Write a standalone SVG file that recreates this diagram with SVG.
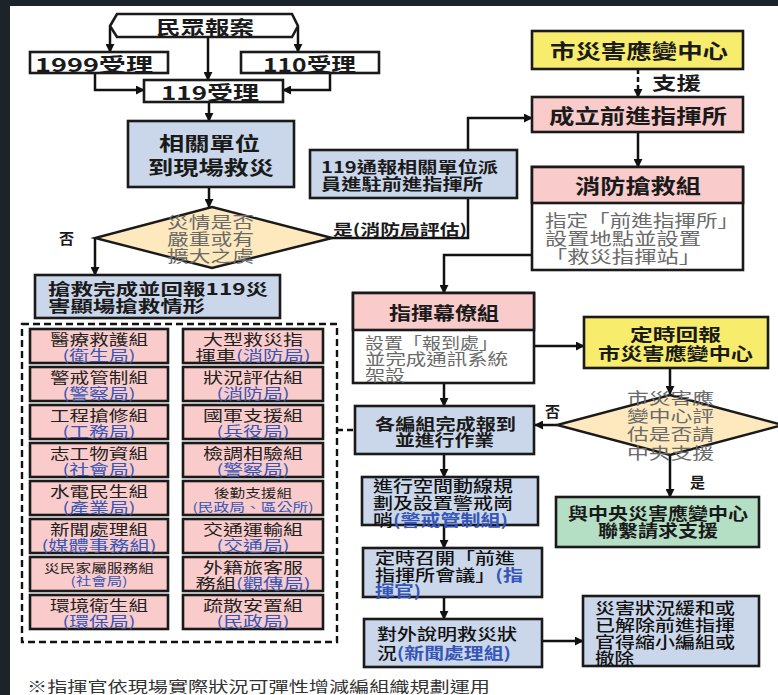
<svg xmlns="http://www.w3.org/2000/svg" width="778" height="695" viewBox="0 0 778 695">
<style>
text{font-family:"Noto Sans CJK TC","Noto Sans CJK SC",sans-serif;dominant-baseline:central}
.b{font-weight:700;fill:#1a1a1a}
.m{font-weight:500;fill:#111}
.g{font-weight:400;fill:#6a6a6a}
.n{font-weight:400;fill:#222}
.u{fill:#3556b8;font-weight:700}
.v{fill:#3556b8;font-weight:400}
.k{fill:#222;font-weight:400}
.box{stroke:#1a1a1a;stroke-width:2.6}
.blue{fill:#cad6ea}
.pink{fill:#f9cbcb}
.yel{fill:#f7ec6c}
.wh{fill:#ffffff}
.grn{fill:#b5dfc5}
.dia{fill:#fde9bd;stroke:#1a1a1a;stroke-width:2.4}
.ln{fill:none;stroke:#111;stroke-width:2.5}
</style>
<defs>
<marker id="ar" viewBox="0 0 10 10" refX="9" refY="5" markerWidth="9" markerHeight="9" markerUnits="userSpaceOnUse" orient="auto">
<path d="M0,0 L10,5 L0,10 Z" fill="#111"/>
</marker>
</defs>
<rect x="0" y="0" width="778" height="695" fill="#1c2329"/>
<rect x="10" y="6" width="768" height="689" fill="#ffffff"/>

<g id="connectors">
<path class="ln" d="M110,27 V52" marker-end="url(#ar)"/>
<path class="ln" d="M208,37 V80" marker-end="url(#ar)"/>
<path class="ln" d="M298,27 V52" marker-end="url(#ar)"/>
<path class="ln" d="M95,73 V90 H144" marker-end="url(#ar)"/>
<path class="ln" d="M330,73 V90 H283" marker-end="url(#ar)"/>
<path class="ln" d="M209,102 V121" marker-end="url(#ar)"/>
<path class="ln" d="M209,187 V207" marker-end="url(#ar)"/>
<path class="ln" d="M95,238 V275" marker-end="url(#ar)"/>
<path class="ln" d="M332,238 H468 V198"/>
<path class="ln" d="M468,150 V118 H532" marker-end="url(#ar)"/>
<path class="ln" d="M638,69 V97" stroke-dasharray="5,3" marker-end="url(#ar)"/>
<path class="ln" d="M638,132 V167" marker-end="url(#ar)"/>
<path class="ln" d="M532,255 H444 V293" marker-end="url(#ar)"/>
<path class="ln" d="M534,346 H584" marker-end="url(#ar)"/>
<path class="ln" d="M670,368 V394" marker-end="url(#ar)"/>
<path class="ln" d="M557,425 H535" marker-end="url(#ar)"/>
<path class="ln" d="M670,455 V497" marker-end="url(#ar)"/>
<path class="ln" d="M444,383 V406" marker-end="url(#ar)"/>
<path class="ln" d="M444,454 V477" marker-end="url(#ar)"/>
<path class="ln" d="M444,525 V548" marker-end="url(#ar)"/>
<path class="ln" d="M444,597 V619" marker-end="url(#ar)"/>
<path class="ln" d="M542,641 H583" marker-end="url(#ar)"/>
<path class="ln" d="M337,430 H355" stroke-dasharray="6,4"/>
</g>

<g id="report">
<path d="M110,26 L117,14 H292 L298,26 L292,37 H117 Z" fill="#fff" stroke="#1a1a1a" stroke-width="2.6"/>
<text class="b" x="156" y="26" font-size="19" textLength="98" lengthAdjust="spacingAndGlyphs">民眾報案</text>
</g>
<g id="r1999">
<rect class="box wh" x="30" y="52" width="138" height="21"/>
<text class="b" x="35" y="63" font-size="19" textLength="118" lengthAdjust="spacingAndGlyphs">1999受理</text>
</g>
<g id="r110">
<rect class="box wh" x="241" y="52" width="138" height="21"/>
<text class="b" x="263" y="63" font-size="19" textLength="93" lengthAdjust="spacingAndGlyphs">110受理</text>
</g>
<g id="r119">
<rect class="box wh" x="144" y="80" width="139" height="22"/>
<text class="b" x="161" y="91" font-size="19" textLength="98" lengthAdjust="spacingAndGlyphs">119受理</text>
</g>
<g id="rescue">
<rect class="box blue" x="128" y="121" width="166" height="66"/>
<text class="b" font-size="19"><tspan x="159" y="142" textLength="101" lengthAdjust="spacingAndGlyphs">相關單位</tspan><tspan x="148" y="166" textLength="126" lengthAdjust="spacingAndGlyphs">到現場救災</tspan></text>
</g>
<g id="decision1">
<path class="dia" d="M212,207 L332,238 L212,268 L95,238 Z"/>
<text class="g" font-size="16"><tspan x="167" y="221" textLength="87" lengthAdjust="spacingAndGlyphs">災情是否</tspan><tspan x="167" y="238" textLength="87" lengthAdjust="spacingAndGlyphs">嚴重或有</tspan><tspan x="167" y="255" textLength="87" lengthAdjust="spacingAndGlyphs">擴大之虞</tspan></text>
<text class="b" x="59" y="237" font-size="15">否</text>
<text class="b" x="333" y="228" font-size="15" textLength="134" lengthAdjust="spacingAndGlyphs">是(消防局評估)</text>
</g>
<g id="done">
<rect class="box blue" x="35" y="275" width="245" height="43"/>
<text class="b" font-size="16"><tspan x="48" y="288" textLength="220" lengthAdjust="spacingAndGlyphs">搶救完成並回報119災</tspan><tspan x="48" y="305" textLength="157" lengthAdjust="spacingAndGlyphs">害顯場搶救情形</tspan></text>
</g>
<g id="notify">
<rect class="box blue" x="310" y="150" width="207" height="48"/>
<text class="b" font-size="15.5"><tspan x="321" y="166" textLength="177" lengthAdjust="spacingAndGlyphs">119通報相關單位派</tspan><tspan x="321" y="183" textLength="162" lengthAdjust="spacingAndGlyphs">員進駐前進指揮所</tspan></text>
</g>
<g id="cityeoc">
<rect class="box yel" x="532" y="31" width="211" height="38"/>
<text class="b" x="550" y="50" font-size="20" textLength="178" lengthAdjust="spacingAndGlyphs">市災害應變中心</text>
<text class="b" x="652" y="82" font-size="18" textLength="49" lengthAdjust="spacingAndGlyphs">支援</text>
</g>
<g id="fcp">
<rect class="box pink" x="532" y="97" width="211" height="35"/>
<text class="b" x="549" y="115" font-size="20" textLength="178" lengthAdjust="spacingAndGlyphs">成立前進指揮所</text>
</g>
<g id="fire">
<rect class="box wh" x="532" y="167" width="211" height="103"/>
<rect class="box pink" x="532" y="167" width="211" height="36"/>
<text class="b" x="575" y="185" font-size="20" textLength="126" lengthAdjust="spacingAndGlyphs">消防搶救組</text>
<text class="g" font-size="16.5"><tspan x="545" y="220" textLength="194" lengthAdjust="spacingAndGlyphs">指定「前進指揮所」</tspan><tspan x="545" y="238" textLength="156" lengthAdjust="spacingAndGlyphs">設置地點並設置</tspan><tspan x="545" y="256" textLength="156" lengthAdjust="spacingAndGlyphs">「救災指揮站」</tspan></text>
</g>
<g id="staff">
<rect class="box wh" x="353" y="293" width="181" height="90"/>
<rect class="box pink" x="353" y="293" width="181" height="37"/>
<text class="b" x="389" y="312" font-size="18" textLength="110" lengthAdjust="spacingAndGlyphs">指揮幕僚組</text>
<text class="g" font-size="15.5"><tspan x="365" y="342" textLength="133" lengthAdjust="spacingAndGlyphs">設置「報到處」</tspan><tspan x="365" y="358" textLength="143" lengthAdjust="spacingAndGlyphs">並完成通訊系統</tspan><tspan x="365" y="374" textLength="40" lengthAdjust="spacingAndGlyphs">架設</tspan></text>
</g>
<g id="report2">
<rect class="box yel" x="584" y="317" width="184" height="51"/>
<text class="b" font-size="17.5"><tspan x="630" y="333" textLength="91" lengthAdjust="spacingAndGlyphs">定時回報</tspan><tspan x="598" y="352" textLength="155" lengthAdjust="spacingAndGlyphs">市災害應變中心</tspan></text>
</g>
<g id="decision2">
<path class="dia" d="M670,395 L783,425 L670,455 L557,425 Z"/>
<text class="g" font-size="16"><tspan x="627" y="397" textLength="87" lengthAdjust="spacingAndGlyphs">市災害應</tspan><tspan x="627" y="415" textLength="87" lengthAdjust="spacingAndGlyphs">變中心評</tspan><tspan x="627" y="433" textLength="87" lengthAdjust="spacingAndGlyphs">估是否請</tspan><tspan x="627" y="452" textLength="87" lengthAdjust="spacingAndGlyphs">中央支援</tspan></text>
<text class="b" x="545" y="410" font-size="15">否</text>
<text class="b" x="690" y="481" font-size="15">是</text>
</g>
<g id="central">
<rect class="box grn" x="556" y="497" width="203" height="50"/>
<text class="b" font-size="16.5"><tspan x="568" y="513" textLength="180" lengthAdjust="spacingAndGlyphs">與中央災害應變中心</tspan><tspan x="598" y="530" textLength="120" lengthAdjust="spacingAndGlyphs">聯繫請求支援</tspan></text>
</g>
<g id="groups">
<rect class="box blue" x="355" y="406" width="179" height="48"/>
<text class="b" font-size="15.5"><tspan x="375" y="423" textLength="141" lengthAdjust="spacingAndGlyphs">各編組完成報到</tspan><tspan x="395" y="439" textLength="99" lengthAdjust="spacingAndGlyphs">並進行作業</tspan></text>
</g>
<g id="space">
<rect class="box blue" x="362" y="477" width="176" height="48"/>
<text class="m" font-size="15.5"><tspan x="373" y="485" textLength="140" lengthAdjust="spacingAndGlyphs">進行空間動線規</tspan><tspan x="373" y="502" textLength="140" lengthAdjust="spacingAndGlyphs">劃及設置警戒崗</tspan><tspan x="373" y="519" textLength="135" lengthAdjust="spacingAndGlyphs">哨<tspan class="u">(警戒管制組)</tspan></tspan></text>
</g>
<g id="meeting">
<rect class="box blue" x="363" y="548" width="179" height="49"/>
<text class="m" font-size="15.5"><tspan x="375" y="557" textLength="140" lengthAdjust="spacingAndGlyphs">定時召開「前進</tspan><tspan x="375" y="574" textLength="148" lengthAdjust="spacingAndGlyphs">指揮所會議」<tspan class="u">(指</tspan></tspan><tspan class="u" x="375" y="590" textLength="46" lengthAdjust="spacingAndGlyphs">揮官)</tspan></text>
</g>
<g id="press">
<rect class="box blue" x="364" y="619" width="178" height="48"/>
<text class="m" font-size="15.5"><tspan x="377" y="633" textLength="140" lengthAdjust="spacingAndGlyphs">對外說明救災狀</tspan><tspan x="377" y="652" textLength="134" lengthAdjust="spacingAndGlyphs">況<tspan class="u">(新聞處理組)</tspan></tspan></text>
</g>
<g id="downsize">
<rect class="box blue" x="583" y="596" width="176" height="70"/>
<text class="m" font-size="15.5"><tspan x="595" y="607" textLength="140" lengthAdjust="spacingAndGlyphs">災害狀況緩和或</tspan><tspan x="595" y="624" textLength="140" lengthAdjust="spacingAndGlyphs">已解除前進指揮</tspan><tspan x="595" y="641" textLength="140" lengthAdjust="spacingAndGlyphs">官得縮小編組或</tspan><tspan x="595" y="657" textLength="39" lengthAdjust="spacingAndGlyphs">撤除</tspan></text>
</g>

<g id="container">
<rect x="22" y="324" width="315" height="318" fill="none" stroke="#111" stroke-width="2.4" stroke-dasharray="7,4"/>
</g>
<g id="g1"><rect class="box pink" x="30" y="329" width="138" height="34"/>
<text font-size="14.5"><tspan class="k" x="50" y="338" textLength="98" lengthAdjust="spacingAndGlyphs">醫療救護組</tspan><tspan class="v" x="62.5" y="354" textLength="73" lengthAdjust="spacingAndGlyphs">(衛生局)</tspan></text></g>
<g id="g2"><rect class="box pink" x="30" y="367" width="138" height="34"/>
<text font-size="14.5"><tspan class="k" x="50" y="376" textLength="98" lengthAdjust="spacingAndGlyphs">警戒管制組</tspan><tspan class="v" x="62.5" y="392" textLength="73" lengthAdjust="spacingAndGlyphs">(警察局)</tspan></text></g>
<g id="g3"><rect class="box pink" x="30" y="405" width="138" height="34"/>
<text font-size="14.5"><tspan class="k" x="50" y="414" textLength="98" lengthAdjust="spacingAndGlyphs">工程搶修組</tspan><tspan class="v" x="62.5" y="430" textLength="73" lengthAdjust="spacingAndGlyphs">(工務局)</tspan></text></g>
<g id="g4"><rect class="box pink" x="30" y="443" width="138" height="34"/>
<text font-size="14.5"><tspan class="k" x="50" y="452" textLength="98" lengthAdjust="spacingAndGlyphs">志工物資組</tspan><tspan class="v" x="62.5" y="468" textLength="73" lengthAdjust="spacingAndGlyphs">(社會局)</tspan></text></g>
<g id="g5"><rect class="box pink" x="30" y="481" width="138" height="34"/>
<text font-size="14.5"><tspan class="k" x="50" y="490" textLength="98" lengthAdjust="spacingAndGlyphs">水電民生組</tspan><tspan class="v" x="62.5" y="506" textLength="73" lengthAdjust="spacingAndGlyphs">(產業局)</tspan></text></g>
<g id="g6"><rect class="box pink" x="30" y="519" width="138" height="34"/>
<text font-size="14.5"><tspan class="k" x="50" y="528" textLength="98" lengthAdjust="spacingAndGlyphs">新聞處理組</tspan><tspan class="v" x="41.5" y="544" textLength="115" lengthAdjust="spacingAndGlyphs">(媒體事務組)</tspan></text></g>
<g id="g7"><rect class="box pink" x="30" y="557" width="138" height="34"/>
<text font-size="12"><tspan class="k" x="44" y="567" textLength="110" lengthAdjust="spacingAndGlyphs">災民家屬服務組</tspan><tspan class="v" x="70.5" y="580" textLength="57" lengthAdjust="spacingAndGlyphs">(社會局)</tspan></text></g>
<g id="g8"><rect class="box pink" x="30" y="595" width="138" height="34"/>
<text font-size="14.5"><tspan class="k" x="50" y="604" textLength="98" lengthAdjust="spacingAndGlyphs">環境衛生組</tspan><tspan class="v" x="62.5" y="620" textLength="73" lengthAdjust="spacingAndGlyphs">(環保局)</tspan></text></g>

<g id="g9"><rect class="box pink" x="183" y="329" width="140" height="34"/>
<text font-size="14.5"><tspan class="k" x="203" y="338" textLength="100" lengthAdjust="spacingAndGlyphs">大型救災指</tspan><tspan class="k" x="195.5" y="354" textLength="115" lengthAdjust="spacingAndGlyphs">揮車<tspan class="v">(消防局)</tspan></tspan></text></g>
<g id="g10"><rect class="box pink" x="183" y="367" width="140" height="34"/>
<text font-size="14.5"><tspan class="k" x="203" y="376" textLength="100" lengthAdjust="spacingAndGlyphs">狀況評估組</tspan><tspan class="v" x="216.5" y="392" textLength="73" lengthAdjust="spacingAndGlyphs">(消防局)</tspan></text></g>
<g id="g11"><rect class="box pink" x="183" y="405" width="140" height="34"/>
<text font-size="14.5"><tspan class="k" x="203" y="414" textLength="100" lengthAdjust="spacingAndGlyphs">國軍支援組</tspan><tspan class="v" x="216.5" y="430" textLength="73" lengthAdjust="spacingAndGlyphs">(兵役局)</tspan></text></g>
<g id="g12"><rect class="box pink" x="183" y="443" width="140" height="34"/>
<text font-size="14.5"><tspan class="k" x="203" y="452" textLength="100" lengthAdjust="spacingAndGlyphs">檢調相驗組</tspan><tspan class="v" x="216.5" y="468" textLength="73" lengthAdjust="spacingAndGlyphs">(警察局)</tspan></text></g>
<g id="g13"><rect class="box pink" x="183" y="481" width="140" height="34"/>
<text font-size="12"><tspan class="k" x="214" y="492" textLength="78" lengthAdjust="spacingAndGlyphs">後勤支援組</tspan><tspan class="v" x="192.5" y="506" textLength="121" lengthAdjust="spacingAndGlyphs">(民政局、區公所)</tspan></text></g>
<g id="g14"><rect class="box pink" x="183" y="519" width="140" height="34"/>
<text font-size="14.5"><tspan class="k" x="203" y="528" textLength="100" lengthAdjust="spacingAndGlyphs">交通運輸組</tspan><tspan class="v" x="216.5" y="544" textLength="73" lengthAdjust="spacingAndGlyphs">(交通局)</tspan></text></g>
<g id="g15"><rect class="box pink" x="183" y="557" width="140" height="34"/>
<text font-size="14.5"><tspan class="k" x="203" y="566" textLength="100" lengthAdjust="spacingAndGlyphs">外籍旅客服</tspan><tspan class="k" x="195.5" y="582" textLength="115" lengthAdjust="spacingAndGlyphs">務組<tspan class="v">(觀傳局)</tspan></tspan></text></g>
<g id="g16"><rect class="box pink" x="183" y="595" width="140" height="34"/>
<text font-size="14.5"><tspan class="k" x="203" y="604" textLength="100" lengthAdjust="spacingAndGlyphs">疏散安置組</tspan><tspan class="v" x="216.5" y="620" textLength="73" lengthAdjust="spacingAndGlyphs">(民政局)</tspan></text></g>

<text class="n" x="27" y="685" font-size="15" textLength="463" lengthAdjust="spacingAndGlyphs" style="fill:#333">※指揮官依現場實際狀況可彈性增減編組織規劃運用</text>
</svg>
